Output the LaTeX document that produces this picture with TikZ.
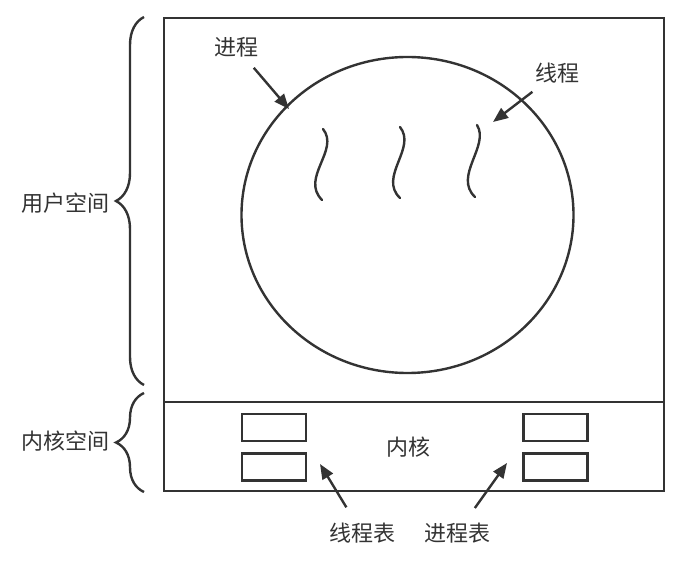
\documentclass[tikz,border=0pt]{standalone}
\usepackage{fontspec}
\newfontfamily\cjk{Noto Sans CJK SC}
\usetikzlibrary{positioning,arrows.meta,shapes.geometric,decorations.pathreplacing}
\definecolor{palInk}{HTML}{333333}
\tikzset{
  lblnode/.style={font=\cjk\fontsize{22}{25}\selectfont, text=palInk, inner sep=0pt},
  regionbox/.style={draw=palInk, line width=2.4pt, minimum width=500pt, inner sep=0pt},
  tblbox/.style={draw=palInk, line width=2.6pt, minimum width=64pt,
                 minimum height=27pt, inner sep=0pt},
  ptrarrow/.style={-{Triangle[length=15pt,width=12pt]}, line width=2.4pt, draw=palInk},
  spacebrace/.style={decorate, decoration={brace, amplitude=28pt},
                     line width=2.4pt, draw=palInk},
  threadline/.style={line width=2.4pt, draw=palInk, line cap=round},
}
\begin{document}
\begin{tikzpicture}[x=1pt, y=-1pt]
\useasboundingbox (0,0) rectangle (675,561);

%% Regions
\node[regionbox, minimum height=384pt] (user) at (414,210) {};
\node[regionbox, minimum height=89pt] (kernel) at (414,446.5) {};
\node[draw=palInk, line width=2.4pt, ellipse, minimum width=332pt,
      minimum height=316pt, inner sep=0pt] (proc) at (407.5,215) {};
\node[lblnode] (kernelLbl) at (408,447) {内核};

%% Tables
\node[tblbox] (thrTblA) at (274,427.5) {};
\node[tblbox, below=10pt of thrTblA] (thrTblB) {};
\node[tblbox] (procTblA) at (555.5,427.5) {};
\node[tblbox, below=10pt of procTblA] (procTblB) {};

%% Threads
\draw[threadline] (323,129) .. controls (340,150) and (300,178) .. (322,200);
\draw[threadline] (400,127) .. controls (417,148) and (378,177) .. (400,198);
\draw[threadline] (477,125) .. controls (490,146) and (453,176) .. (475,197);

%% Braces
\coordinate (userTop) at (144,17);
\coordinate (userBot) at (144,385);
\coordinate (kernTop) at (144,393);
\coordinate (kernBot) at (144,492);
\draw[spacebrace] (userBot) -- (userTop);
\draw[spacebrace] (kernBot) -- (kernTop);
\node[lblnode, anchor=east] (userLbl) at (110,203) {用户空间};
\node[lblnode, anchor=east] (kernLbl) at (110,441) {内核空间};

%% Labels and pointers
\node[lblnode] (procLbl) at (236,47) {进程};
\node[lblnode] (thrLbl) at (557,73) {线程};
\node[lblnode] (thrTblLbl) at (362,533) {线程表};
\node[lblnode] (procTblLbl) at (457,533) {进程表};
\coordinate (procTip) at (289,109);
\coordinate (thrTip) at (493,122);
\coordinate (thrTblTip) at (320,464);
\coordinate (procTblTip) at (507,463);
\draw[ptrarrow, shorten <=14pt] (procLbl) -- (procTip);
\draw[ptrarrow, shorten <=14pt] (thrLbl) -- (thrTip);
\draw[ptrarrow, shorten <=18pt] (thrTblLbl) -- (thrTblTip);
\draw[ptrarrow, shorten <=18pt] (procTblLbl) -- (procTblTip);
\end{tikzpicture}
\end{document}
